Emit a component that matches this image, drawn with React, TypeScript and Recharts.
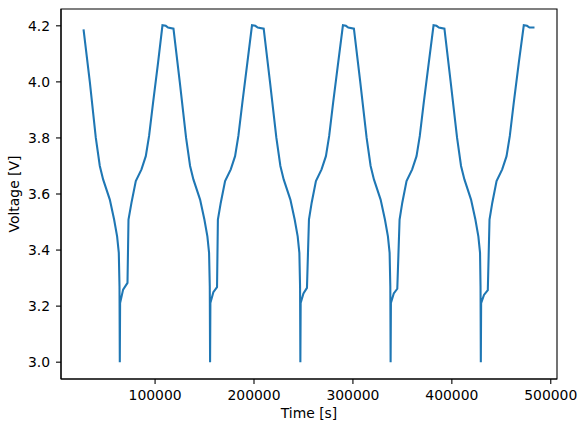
import React from "react";
import { LineChart, Line, XAxis, YAxis, Label, ReferenceArea } from "recharts";

// [time (s), voltage (V)] for each charge/discharge cycle
const cycle1: [number, number][] = [
  [27680, 4.187], [34040, 4.0], [40100, 3.8], [44140, 3.7], [47470, 3.652],
  [54240, 3.58], [58590, 3.509], [61620, 3.449], [63330, 3.39], [64040, 3.27],
  [64340, 3.0], [64650, 3.211], [67680, 3.259], [72120, 3.283], [73130, 3.509],
  [76160, 3.569], [80510, 3.646], [86260, 3.688], [90610, 3.735], [93940, 3.807],
  [97980, 3.926], [103030, 4.069], [107470, 4.202], [110810, 4.2], [113130, 4.194],
  [118590, 4.19],
];
const cycle2: [number, number][] = [
  [124950, 4.0], [131360, 3.8], [135400, 3.7], [138730, 3.652], [145500, 3.58],
  [149850, 3.509], [152880, 3.449], [154590, 3.39], [155300, 3.27], [155600, 3.0],
  [155910, 3.211], [158900, 3.25], [162630, 3.268], [163500, 3.509], [166420, 3.569],
  [170770, 3.646], [176520, 3.688], [180870, 3.735], [184200, 3.807], [188240, 3.926],
  [193290, 4.069], [197980, 4.202], [201300, 4.2], [203800, 4.194], [209800, 4.19],
];
const cycle3: [number, number][] = [
  [216160, 4.0], [222630, 3.8], [226670, 3.7], [230000, 3.652], [236770, 3.58],
  [241120, 3.509], [244150, 3.449], [245860, 3.39], [246570, 3.27], [246870, 3.0],
  [247180, 3.211], [250000, 3.245], [253540, 3.265], [255560, 3.509], [258300, 3.569],
  [262600, 3.646], [268300, 3.688], [272700, 3.735], [276000, 3.807], [280000, 3.926],
  [285100, 4.069], [289900, 4.202], [292900, 4.2], [295300, 4.194], [301000, 4.19],
];
const cycle4: [number, number][] = [
  [307400, 4.0], [313860, 3.8], [317900, 3.7], [321230, 3.652], [328000, 3.58],
  [332350, 3.509], [335380, 3.449], [337090, 3.39], [337800, 3.27], [338100, 3.0],
  [338410, 3.211], [341300, 3.245], [344850, 3.262], [347170, 3.509], [349900, 3.569],
  [354200, 3.646], [359900, 3.688], [364300, 3.735], [367600, 3.807], [371600, 3.926],
  [376700, 4.069], [381500, 4.202], [384500, 4.2], [386900, 4.194], [392500, 4.19],
];
const cycle5: [number, number][] = [
  [398800, 4.0], [405300, 3.8], [409300, 3.7], [412700, 3.652], [419400, 3.58],
  [423800, 3.509], [426800, 3.449], [428500, 3.39], [429000, 3.27], [429300, 3.0],
  [429610, 3.211], [432500, 3.24], [436360, 3.257], [438080, 3.509], [440900, 3.569],
  [445200, 3.646], [450900, 3.688], [455300, 3.735], [458600, 3.807], [462600, 3.926],
  [467700, 4.069], [472730, 4.202], [476000, 4.2], [478500, 4.194], [483540, 4.194],
];

const xTicks = [100000, 200000, 300000, 400000, 500000];
const yTicks = [3.0, 3.2, 3.4, 3.6, 3.8, 4.0, 4.2];
const xDomain: [number, number] = [4900, 506300];
const yDomain: [number, number] = [2.94, 4.26];

const data = [...cycle1, ...cycle2, ...cycle3, ...cycle4, ...cycle5].map(([t, v]) => ({ t, v }));

const FONT = "DejaVu Sans";
const tickStyle = { fill: "#000", fontSize: 13.9, fontFamily: FONT };
const lineStyle = { stroke: "#000", strokeWidth: 1.1 };

export default function App() {
  return (
    <div style={{ position: "absolute", left: 0, top: 0, background: "#fff" }}>
      <LineChart
        width={587}
        height={432}
        data={data}
        margin={{ top: 9, right: 30, bottom: 0, left: 0 }}
      >
        <XAxis
          dataKey="t"
          type="number"
          domain={xDomain}
          ticks={xTicks}
          allowDataOverflow
          height={53}
          tick={tickStyle}
          tickLine={lineStyle}
          axisLine={lineStyle}
          tickSize={5}
          tickMargin={6}
        >
          <Label
            content={({ viewBox }: any) => (
              <text
                x={viewBox.x + viewBox.width / 2}
                y={418}
                textAnchor="middle"
                fontFamily={FONT}
                fontSize={13.9}
                fill="#000"
              >
                Time [s]
              </text>
            )}
          />
        </XAxis>
        <YAxis
          type="number"
          domain={yDomain}
          ticks={yTicks}
          allowDataOverflow
          width={61}
          tick={tickStyle}
          tickLine={lineStyle}
          axisLine={lineStyle}
          tickSize={5}
          tickMargin={6}
          tickFormatter={(v: number) => v.toFixed(1)}
        >
          <Label
            content={({ viewBox }: any) => {
              const x = 18.5;
              const y = viewBox.y + viewBox.height / 2;
              return (
                <text
                  x={x}
                  y={y}
                  textAnchor="middle"
                  fontFamily={FONT}
                  fontSize={13.9}
                  fill="#000"
                  transform={`rotate(-90, ${x}, ${y})`}
                >
                  Voltage [V]
                </text>
              );
            }}
          />
        </YAxis>
        <ReferenceArea
          x1={xDomain[0]}
          x2={xDomain[1]}
          y1={yDomain[0]}
          y2={yDomain[1]}
          fill="none"
          fillOpacity={0}
          stroke="#000"
          strokeWidth={1.1}
          ifOverflow="visible"
        />
        <Line
          type="linear"
          dataKey="v"
          stroke="#1f77b4"
          strokeWidth={2.08}
          dot={false}
          activeDot={false}
          isAnimationActive={false}
        />
      </LineChart>
    </div>
  );
}
